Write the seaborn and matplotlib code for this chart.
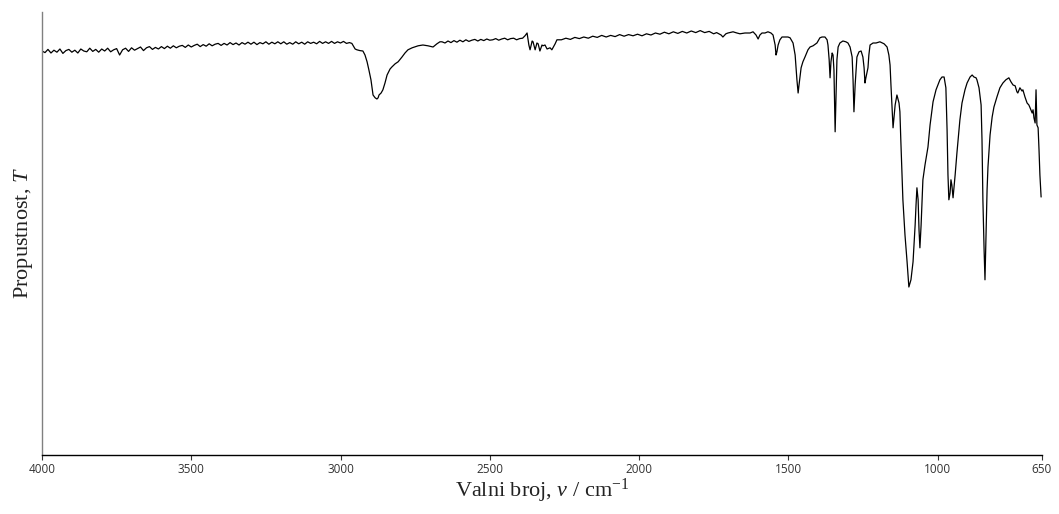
import matplotlib
matplotlib.use("Agg")
import matplotlib.pyplot as plt
import seaborn as sns
import pandas as pd

# ---- data ----
wavenumber = [
    4000, 3990, 3980, 3970, 3960, 3950, 3940, 3930, 3920, 3910, 3900, 3890, 3880, 3870, 3860, 3850,
    3840, 3830, 3820, 3810, 3800, 3790, 3780, 3770, 3760, 3750, 3740, 3730, 3720, 3710, 3700, 3690,
    3680, 3670, 3660, 3650, 3640, 3630, 3620, 3610, 3600, 3590, 3580, 3570, 3560, 3550, 3540, 3530,
    3520, 3510, 3500, 3490, 3480, 3470, 3460, 3450, 3440, 3430, 3420, 3410, 3400, 3390, 3380, 3370,
    3360, 3350, 3340, 3330, 3320, 3310, 3300, 3290, 3280, 3270, 3260, 3250, 3240, 3230, 3220, 3210,
    3200, 3190, 3180, 3170, 3160, 3150, 3140, 3130, 3120, 3110, 3100, 3090, 3080, 3070, 3060, 3050,
    3040, 3030, 3020, 3010, 3000, 2990, 2980, 2970,
    2962, 2951, 2945, 2935, 2925, 2918, 2911, 2905, 2898, 2891, 2884, 2878, 2874, 2871, 2864, 2858,
    2851, 2844, 2834, 2828, 2817, 2807, 2794, 2784, 2774, 2760, 2740, 2724, 2707, 2690, 2677, 2667,
    2660, 2650, 2640, 2630, 2620, 2610, 2600, 2590, 2580, 2570, 2560, 2550, 2540, 2530, 2520, 2510,
    2500, 2490, 2480, 2470, 2460, 2450, 2440, 2430, 2420, 2410, 2400, 2390,
    2382, 2375, 2369, 2365, 2358, 2355, 2348, 2342, 2338, 2332, 2325, 2322, 2315, 2308, 2298, 2292,
    2281, 2275,
    2260, 2245, 2230, 2215, 2200, 2185, 2170, 2155, 2140, 2125, 2110, 2095, 2080, 2065, 2050, 2035,
    2020, 2005, 1990, 1975, 1960, 1945, 1930, 1915, 1900, 1885, 1870, 1855, 1840, 1825, 1810, 1795,
    1780, 1765, 1750, 1740,
    1725, 1719, 1709, 1702, 1685, 1672, 1662, 1645, 1628, 1618, 1608, 1601, 1595, 1588, 1578, 1568,
    1558, 1551, 1544, 1541, 1538, 1534, 1528, 1521, 1511, 1501, 1494, 1484, 1477, 1471, 1467, 1464,
    1457, 1451, 1444, 1434, 1427, 1417, 1404, 1394, 1387, 1377, 1370, 1367, 1363, 1360, 1357, 1353,
    1350, 1347, 1343, 1340, 1337, 1333, 1327, 1317, 1307, 1300, 1293, 1286, 1283, 1280, 1276, 1270,
    1263, 1256, 1250, 1246, 1243, 1240, 1233, 1230, 1226, 1216, 1206, 1193, 1179, 1169, 1163, 1159,
    1156, 1149, 1142, 1136, 1129, 1126, 1123, 1116, 1109, 1102, 1096, 1089, 1082, 1075, 1072, 1069,
    1065, 1062, 1059, 1055, 1049, 1042, 1032, 1025, 1015, 1005, 992, 985, 978, 972, 968, 965,
    962, 958, 955, 952, 948, 941, 935, 925, 918, 908, 901, 891, 884, 878, 871, 868,
    861, 854, 851, 848, 844, 841, 838, 834, 831, 824, 817, 811, 801, 791, 781, 771,
    761, 754, 747, 740, 734, 731, 724, 717, 714, 707, 700, 694, 690, 683, 680, 677,
    673, 670, 667, 663, 660, 657, 653,
]

transmittance = [
    95.0, 94.6, 95.4, 94.5, 95.2, 94.7, 95.5, 94.4, 95.1, 95.4, 94.7, 95.2, 94.5, 95.5, 95.0, 94.8,
    95.7, 94.9, 95.4, 94.7, 95.5, 95.0, 95.7, 94.8, 95.3, 95.6, 94.0, 95.3, 95.7, 94.9, 95.8, 95.2,
    95.6, 96.0, 95.1, 95.8, 96.1, 95.4, 95.9, 95.5, 96.1, 95.6, 96.2, 95.7, 96.3, 95.8, 96.2, 96.4,
    95.9, 96.5, 96.0, 96.4, 96.7, 96.1, 96.6, 96.2, 96.8, 96.3, 96.7, 96.9, 96.4, 96.9, 96.5, 97.1,
    96.6, 97.0, 96.5, 97.1, 96.7, 97.2, 96.7, 97.2, 96.6, 97.1, 96.8, 97.3, 96.7, 97.2, 96.8, 97.3,
    96.8, 97.3, 96.7, 97.1, 96.7, 97.3, 96.8, 97.2, 96.7, 97.3, 96.9, 97.2, 96.8, 97.4, 96.9, 97.3,
    96.9, 97.4, 96.9, 97.3, 97.0, 97.4, 96.9, 97.1,
    96.9, 95.5, 95.3, 95.1, 95.0, 94.0, 92.3, 90.3, 87.8, 84.0, 83.3, 83.0, 83.3, 84.0, 84.5, 85.3,
    87.0, 89.0, 90.5, 91.0, 91.8, 92.3, 93.5, 94.5, 95.3, 95.8, 96.3, 96.5, 96.3, 96.0, 96.8, 97.3,
    97.3, 97.0, 97.5, 97.1, 97.6, 97.2, 97.7, 97.3, 97.8, 97.4, 97.7, 97.9, 97.5, 97.9, 97.6, 98.0,
    97.7, 97.8, 98.1, 97.7, 98.0, 98.2, 97.8, 98.1, 98.2, 97.8, 98.1, 98.2,
    98.8, 99.5, 96.5, 95.3, 97.5, 97.3, 95.3, 97.0, 96.8, 95.0, 96.5, 96.3, 96.5, 95.5, 95.8, 95.3,
    96.8, 97.8,
    97.8, 98.2, 97.9, 98.4, 98.1, 98.5, 98.2, 98.7, 98.4, 98.9, 98.5, 98.9, 98.6, 99.1, 98.7, 99.1,
    98.8, 99.2, 98.8, 99.3, 99.0, 99.5, 99.2, 99.7, 99.3, 99.8, 99.4, 99.9, 99.5, 100.0, 99.6, 100.1,
    99.6, 99.9, 99.3, 99.6,
    99.0, 98.5, 99.3, 99.5, 99.8, 99.5, 99.3, 99.5, 99.5, 99.8, 99.0, 98.0, 99.0, 99.5, 99.5, 99.8,
    99.5, 99.0, 96.5, 94.0, 94.8, 96.5, 97.8, 98.5, 98.5, 98.5, 98.3, 97.0, 94.0, 87.8, 84.5, 86.5,
    90.8, 92.3, 93.5, 95.3, 96.0, 96.3, 97.0, 98.3, 98.5, 98.5, 97.8, 96.5, 92.8, 88.3, 92.3, 94.5,
    94.0, 90.3, 74.8, 84.0, 92.8, 96.0, 97.0, 97.5, 97.3, 97.0, 96.0, 93.5, 87.8, 79.8, 86.5, 93.5,
    94.8, 95.0, 93.5, 90.8, 87.0, 88.3, 90.8, 94.0, 96.5, 97.0, 97.0, 97.3, 96.8, 96.0, 94.0, 91.5,
    86.5, 75.8, 81.5, 84.0, 82.0, 79.8, 72.8, 57.8, 49.0, 42.3, 36.0, 37.8, 42.3, 51.5, 56.5, 60.8,
    57.8, 50.3, 45.8, 51.5, 62.8, 66.5, 71.0, 76.5, 82.3, 85.3, 87.8, 88.5, 88.5, 85.8, 75.3, 64.0,
    57.8, 59.5, 62.8, 61.5, 58.3, 64.0, 69.5, 77.8, 82.0, 85.3, 87.0, 88.5, 89.0, 88.5, 88.3, 87.8,
    85.8, 81.5, 72.8, 57.8, 45.3, 37.8, 47.8, 60.3, 66.0, 74.0, 78.5, 81.0, 83.5, 85.8, 87.0, 87.8,
    88.3, 87.3, 86.5, 86.3, 84.8, 84.5, 85.8, 85.0, 85.3, 83.5, 82.0, 81.5, 80.8, 79.5, 80.3, 78.3,
    77.0, 85.3, 76.5, 75.8, 70.3, 64.0, 58.5,
]

x_ticks = [4000, 3500, 3000, 2500, 2000, 1500, 1000, 650]
x_label = "Valni broj, $\\nu$ / cm$^{-1}$"
y_label = "Propustnost, $T$"

df = pd.DataFrame({"wn": wavenumber, "T": transmittance})

sns.set_theme(style="white")
plt.rcParams["mathtext.fontset"] = "custom"
plt.rcParams["mathtext.rm"] = "Liberation Serif"
plt.rcParams["mathtext.it"] = "Liberation Serif:italic"

W, H = 1059, 514
fig = plt.figure(figsize=(W / 100, H / 100), dpi=100)
ax = fig.add_axes([42 / W, 59 / H, 1000 / W, 443 / H])

sns.lineplot(data=df, x="wn", y="T", ax=ax, color="black", linewidth=0.9,
             estimator=None, sort=False)

ax.set_xlim(4000, 650)
ax.set_ylim(-6, 104.75)
ax.set_xticks(x_ticks)
ax.set_xticklabels([str(t) for t in x_ticks], fontfamily="Open Sans", fontsize=8.5, color="#333333")
ax.set_yticks([])

for s in ["top", "right"]:
    ax.spines[s].set_visible(False)
ax.spines["left"].set_color("#808080")
ax.spines["left"].set_linewidth(1.0)
ax.spines["bottom"].set_color("black")
ax.spines["bottom"].set_linewidth(1.0)
ax.tick_params(axis="x", direction="out", length=3.5, width=0.8, color="#333333", pad=2, bottom=True)

ax.set_xlabel(x_label, fontfamily="Liberation Serif", fontsize=16, color="#222222", labelpad=1)
ax.set_ylabel(y_label, fontfamily="Liberation Serif", fontsize=16, color="#222222", labelpad=5)

fig.savefig("out.png", dpi=100)
